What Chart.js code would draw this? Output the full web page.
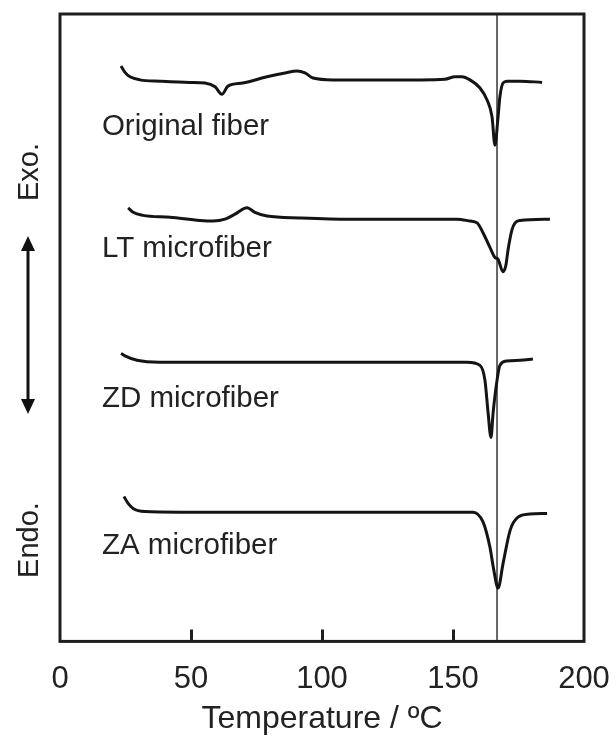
<!DOCTYPE html>
<html>
<head>
<meta charset="utf-8">
<script src="https://cdn.jsdelivr.net/npm/chart.js@4.4.1/dist/chart.umd.min.js"></script>
<style>
  html, body { margin: 0; padding: 0; background: #ffffff; }
  #wrap { width: 616px; height: 738px; }
</style>
</head>
<body>
<div id="wrap"><canvas id="c" width="616" height="738"></canvas></div>
<script>
// ---- Data (temperature in °C, heat flow in arbitrary stacked units) ----
const seriesNames = ['Original fiber', 'LT microfiber', 'ZD microfiber', 'ZA microfiber'];

const origT  = [23.3, 24.8, 26.7, 30.5, 38.2, 49.6, 55.3, 59.2, 61.8, 64.1, 69.8, 79.0, 85.9, 90.5, 93.5, 96.6, 104.2, 118.3, 137.4, 146.9, 150.8, 153.4, 156.5, 160.3, 163.0, 164.9, 166.0, 167.2, 167.9, 169.1, 170.6, 175.6, 184.0];
const origHF = [91.7, 90.7, 90.0, 89.5, 89.3, 89.1, 89.0, 88.4, 87.2, 88.5, 89.0, 90.0, 90.6, 90.9, 90.6, 89.8, 89.5, 89.5, 89.5, 89.6, 90.0, 90.0, 89.5, 88.2, 86.3, 83.6, 79.1, 83.6, 86.8, 89.0, 89.3, 89.3, 89.1];

const ltT  = [26.0, 27.9, 31.7, 42.0, 53.4, 58.4, 63.0, 66.8, 71.4, 74.4, 79.0, 91.6, 110.7, 137.4, 151.5, 156.5, 159.2, 161.5, 164.1, 166.0, 167.2, 169.1, 170.2, 171.0, 172.5, 173.7, 175.6, 187.0];
const ltHF = [69.1, 68.4, 67.9, 67.6, 67.1, 67.0, 67.3, 68.1, 69.1, 68.4, 67.8, 67.5, 67.3, 67.3, 67.3, 67.0, 66.7, 65.1, 62.8, 61.2, 60.9, 58.9, 60.0, 62.4, 65.6, 66.7, 67.1, 67.3];

const zdT  = [23.3, 24.8, 29.4, 38.2, 72.5, 110.7, 145.0, 155.3, 160.3, 162.2, 163.4, 164.5, 165.3, 166.8, 167.9, 170.6, 175.6, 180.5];
const zdHF = [45.9, 45.5, 44.8, 44.5, 44.5, 44.5, 44.5, 44.5, 44.0, 41.6, 36.4, 32.5, 36.4, 41.6, 44.0, 44.7, 44.8, 45.0];

const zaT  = [24.4, 26.0, 27.9, 32.4, 45.8, 91.6, 129.8, 157.6, 161.5, 164.1, 165.6, 167.2, 169.1, 171.8, 174.8, 179.4, 185.9];
const zaHF = [23.1, 22.0, 21.2, 20.7, 20.6, 20.6, 20.6, 20.6, 19.0, 15.0, 11.3, 8.5, 12.4, 17.7, 19.8, 20.3, 20.4];

const refLineT = 166.8;           // vertical reference line (melting peak)
const xTickValues = [0, 50, 100, 150, 200];
const xTitle = 'Temperature / ºC';
const yTop = 'Exo.';
const yBottom = 'Endo.';

// label anchors (data coordinates) for the curve names
const labelAnchorT = 16.0;
const labelAnchorV = [80.7, 61.2, 37.3, 14.0];

function pts(xs, ys) { return xs.map((x, i) => ({ x: x, y: ys[i] })); }

const FONT = "'Liberation Sans', Arial, Helvetica, sans-serif";
const INK = '#141414';

const curveStyle = {
  borderColor: INK, borderWidth: 3, pointRadius: 0, fill: false,
  cubicInterpolationMode: 'monotone', tension: 0.4
};

const decorPlugin = {
  id: 'decor',
  afterDatasetsDraw(chart) {
    const ctx = chart.ctx;
    const a = chart.chartArea;
    const xs = chart.scales.x, ys = chart.scales.y;
    ctx.save();
    // frame
    ctx.strokeStyle = '#1e1e1e';
    ctx.lineWidth = 3;
    ctx.strokeRect(a.left, a.top, a.right - a.left, a.bottom - a.top);
    // inward tick marks
    ctx.beginPath();
    xTickValues.forEach(v => {
      if (v === xs.min || v === xs.max) return;
      const px = Math.round(xs.getPixelForValue(v)) + 0.5;
      ctx.moveTo(px, a.bottom);
      ctx.lineTo(px, a.bottom - 12);
    });
    ctx.stroke();
    // curve names
    ctx.fillStyle = '#222';
    ctx.font = '29.5px ' + FONT;
    ctx.textAlign = 'left';
    ctx.textBaseline = 'alphabetic';
    seriesNames.forEach((n, i) => {
      ctx.fillText(n, xs.getPixelForValue(labelAnchorT), ys.getPixelForValue(labelAnchorV[i]));
    });
    // Exo / Endo with double arrow
    const cx = 30;
    ctx.font = '29px ' + FONT;
    ctx.textAlign = 'center';
    ctx.textBaseline = 'middle';
    ctx.save(); ctx.translate(cx, 172); ctx.rotate(-Math.PI / 2); ctx.fillText(yTop, 0, 0); ctx.restore();
    ctx.save(); ctx.translate(cx, 540); ctx.rotate(-Math.PI / 2); ctx.fillText(yBottom, 0, 0); ctx.restore();
    const ax = 28, y1 = 236, y2 = 414, hl = 15, hw = 7;
    ctx.strokeStyle = '#111'; ctx.fillStyle = '#111'; ctx.lineWidth = 3;
    ctx.beginPath(); ctx.moveTo(ax, y1 + hl - 2); ctx.lineTo(ax, y2 - hl + 2); ctx.stroke();
    ctx.beginPath(); ctx.moveTo(ax, y1); ctx.lineTo(ax - hw, y1 + hl); ctx.lineTo(ax + hw, y1 + hl); ctx.closePath(); ctx.fill();
    ctx.beginPath(); ctx.moveTo(ax, y2); ctx.lineTo(ax - hw, y2 - hl); ctx.lineTo(ax + hw, y2 - hl); ctx.closePath(); ctx.fill();
    ctx.restore();
  }
};

new Chart(document.getElementById('c'), {
  type: 'line',
  data: {
    datasets: [
      Object.assign({ label: seriesNames[0], data: pts(origT, origHF) }, curveStyle),
      Object.assign({ label: seriesNames[1], data: pts(ltT, ltHF) }, curveStyle),
      Object.assign({ label: seriesNames[2], data: pts(zdT, zdHF) }, curveStyle),
      Object.assign({ label: seriesNames[3], data: pts(zaT, zaHF) }, curveStyle),
      { label: 'ref', data: [{ x: refLineT, y: 0 }, { x: refLineT, y: 100 }],
        borderColor: '#000', borderWidth: 1.2, pointRadius: 0, tension: 0, fill: false }
    ]
  },
  options: {
    responsive: false,
    animation: false,
    devicePixelRatio: 1,
    layout: { padding: { left: 60, right: 32, top: 14, bottom: 0 } },
    plugins: { legend: { display: false }, tooltip: { enabled: false } },
    scales: {
      x: {
        type: 'linear', min: 0, max: 200,
        afterBuildTicks: (s) => { s.ticks = xTickValues.map(v => ({ value: v })); },
        afterFit: (s) => { s.paddingLeft = 0; s.paddingRight = 0; },
        grid: { display: false, drawTicks: false },
        border: { display: false },
        ticks: { color: '#222', font: { family: FONT, size: 31 }, padding: 19, maxRotation: 0 },
        title: { display: true, text: xTitle, color: '#222', font: { family: FONT, size: 32 }, padding: { top: -17, bottom: 0 } }
      },
      y: { type: 'linear', display: false, min: 0, max: 100 }
    }
  },
  plugins: [decorPlugin]
});
</script>
</body>
</html>
